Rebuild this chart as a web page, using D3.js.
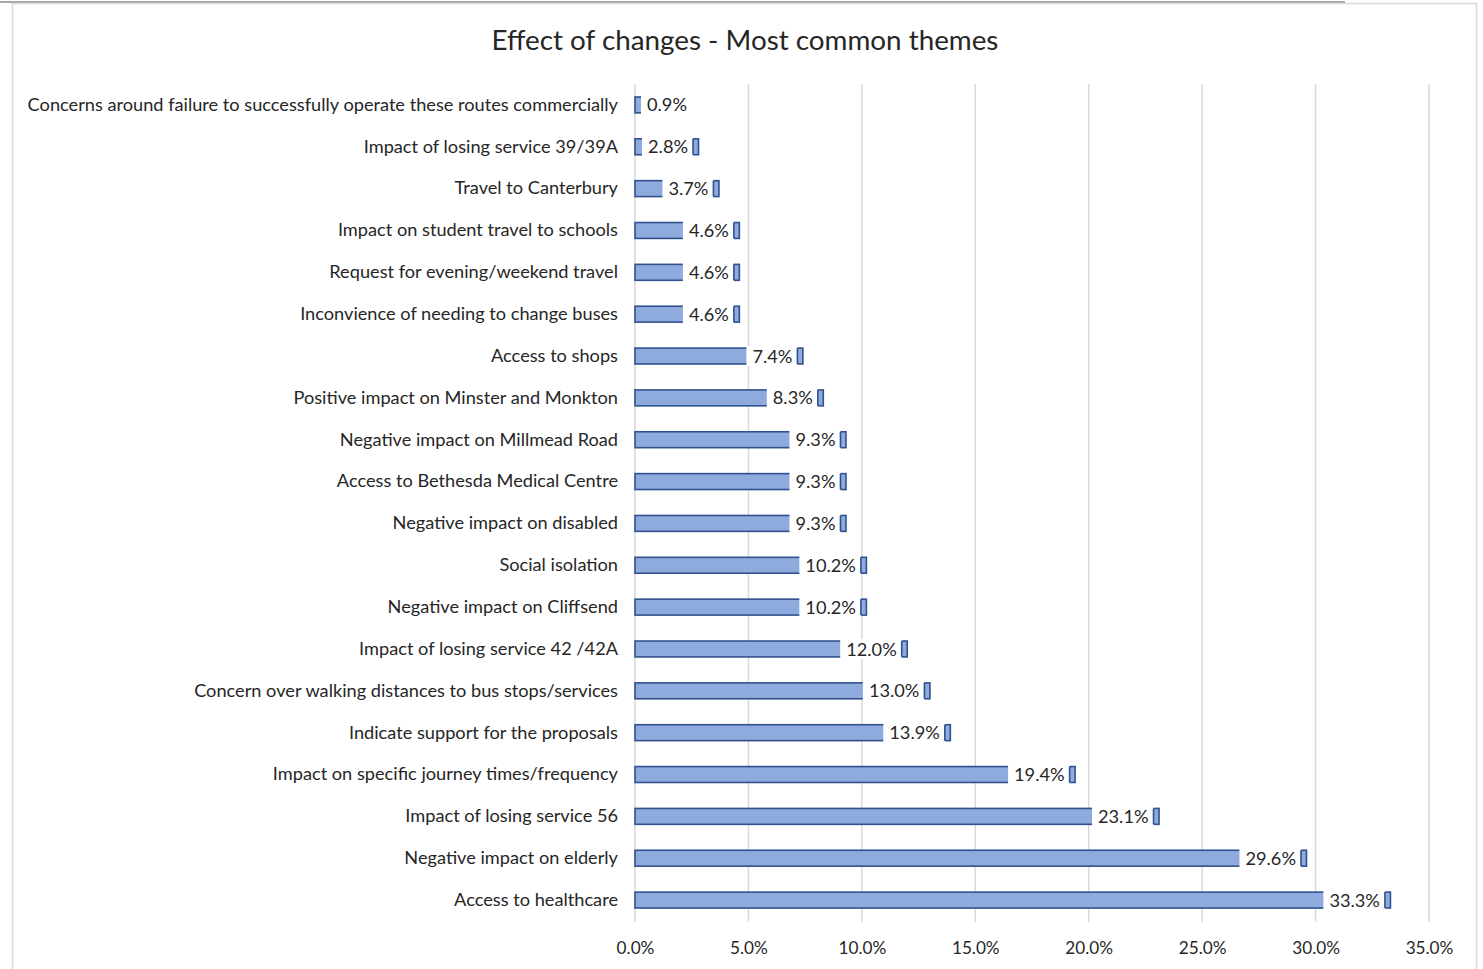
<!DOCTYPE html>
<html>
<head>
<meta charset="utf-8">
<script src="https://cdn.jsdelivr.net/npm/d3@7"></script>
<style>
  html, body { margin: 0; padding: 0; background: #ffffff; }
  svg { display: block; }
  text { font-family: Lato, "Open Sans", sans-serif; fill: #262626; }
</style>
</head>
<body>
<svg id="chart" width="1483" height="969"></svg>
<script>
// Themes, top to bottom, and their share of responses (%)
const themes = [
  "Concerns around failure to successfully operate these routes commercially",
  "Impact of losing service 39/39A",
  "Travel to Canterbury",
  "Impact on student travel to schools",
  "Request for evening/weekend travel",
  "Inconvience of needing to change buses",
  "Access to shops",
  "Positive impact on Minster and Monkton",
  "Negative impact on Millmead Road",
  "Access to Bethesda Medical Centre",
  "Negative impact on disabled",
  "Social isolation",
  "Negative impact on Cliffsend",
  "Impact of losing service 42 /42A",
  "Concern over walking distances to bus stops/services",
  "Indicate support for the proposals",
  "Impact on specific journey times/frequency",
  "Impact of losing service 56",
  "Negative impact on elderly",
  "Access to healthcare"
];
const shares = [0.9, 2.8, 3.7, 4.6, 4.6, 4.6, 7.4, 8.3, 9.3, 9.3, 9.3, 10.2, 10.2, 12.0, 13.0, 13.9, 19.4, 23.1, 29.6, 33.3];
const xTicks = [0, 5, 10, 15, 20, 25, 30, 35];
const title = "Effect of changes - Most common themes";

const data = themes.map((t, i) => ({ theme: t, value: shares[i] }));

const svg = d3.select("#chart");
const W = 1483, H = 969;
const plot = { left: 635, right: 1429, top: 84, bottom: 921 };

const fill = "#8faadc", stroke = "#2f528f", grid = "#d9d9d9";
const fmt = v => d3.format(".1f")(v) + "%";

// Frame
svg.append("rect").attr("x", 0).attr("y", 0).attr("width", W).attr("height", H).attr("fill", "#fff");
svg.append("line").attr("x1", 0).attr("x2", 1345).attr("y1", 2).attr("y2", 2)
  .attr("stroke", "#a6a6a6").attr("stroke-width", 2);
svg.append("rect").attr("x", 12.5).attr("y", 3.5).attr("width", 1464).attr("height", 980)
  .attr("fill", "none").attr("stroke", grid).attr("stroke-width", 1.5);

const x = d3.scaleLinear().domain([0, 35]).range([plot.left, plot.right]);
const y = d3.scaleBand().domain(themes).range([plot.top, plot.bottom]).paddingInner(0.62).paddingOuter(0.31);

// Vertical gridlines
svg.append("g").selectAll("line").data(xTicks).join("line")
  .attr("x1", d => x(d)).attr("x2", d => x(d))
  .attr("y1", plot.top).attr("y2", plot.bottom + 1)
  .attr("stroke", grid).attr("stroke-width", 1.5);

// X axis tick labels
const xAxis = d3.axisBottom(x).tickValues(xTicks).tickSize(0).tickPadding(0).tickFormat(fmt);
const gx = svg.append("g").attr("transform", `translate(0, ${plot.bottom + 21})`).call(xAxis);
gx.select(".domain").remove();
gx.selectAll("text").attr("font-size", 17.2).attr("fill", "#262626")
  .style("font-family", "Lato, 'Open Sans', sans-serif");

// Y axis category labels
const yAxis = d3.axisLeft(y).tickSize(0).tickPadding(17);
const gy = svg.append("g").attr("transform", `translate(${plot.left}, 0)`).call(yAxis);
gy.select(".domain").remove();
gy.selectAll("text").attr("font-size", 18.2).attr("fill", "#262626")
  .style("font-family", "Lato, 'Open Sans', sans-serif");

// Bars
svg.append("g").selectAll("rect").data(data).join("rect")
  .attr("x", x(0))
  .attr("y", d => y(d.theme))
  .attr("width", d => x(d.value) - x(0))
  .attr("height", y.bandwidth())
  .attr("fill", fill)
  .attr("stroke", stroke)
  .attr("stroke-width", 1.6);

// Data labels: white boxes placed at the inside end of each bar
const labels = svg.append("g").selectAll("g").data(data).join("g");
labels.each(function(d) {
  const g = d3.select(this);
  const cy = y(d.theme) + y.bandwidth() / 2;
  const end = x(d.value);
  const box = g.append("rect").attr("fill", "#fff");
  const t = g.append("text")
    .attr("y", cy).attr("dy", "0.36em")
    .attr("font-size", 18.2)
    .text(fmt(d.value));
  const w = t.node().getComputedTextLength();
  let tx = end - 10.5 - w;
  const fits = tx >= x(0) + 12;
  if (!fits) tx = x(0) + 12;
  t.attr("x", tx);
  const bl = tx - 6, br = tx + w + 5;
  box.attr("x", bl).attr("y", cy - y.bandwidth() / 2 - 2)
    .attr("width", br - bl).attr("height", y.bandwidth() + 4);
  if (fits) {
    // edge of the bar segment that shows past the label
    g.append("line")
      .attr("x1", br).attr("x2", br)
      .attr("y1", y(d.theme)).attr("y2", y(d.theme) + y.bandwidth())
      .attr("stroke", stroke).attr("stroke-width", 1.6);
  }
});

// Title
svg.append("text")
  .attr("x", 745).attr("y", 49.5)
  .attr("text-anchor", "middle")
  .attr("font-size", 27.8)
  .attr("fill", "#1a1a1a")
  .text(title);
</script>
</body>
</html>
